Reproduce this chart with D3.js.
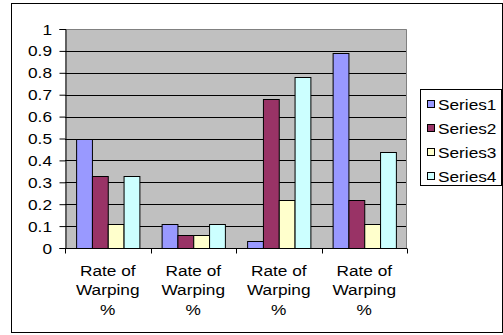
<!DOCTYPE html>
<html>
<head>
<meta charset="utf-8">
<script src="https://cdn.jsdelivr.net/npm/d3@7"></script>
<style>
  html, body { margin: 0; padding: 0; background: #fff; }
  svg { display: block; }
  text { font-family: "Liberation Sans", Arial, sans-serif; fill: #000; }
</style>
</head>
<body>
<svg id="chart" width="503" height="335"></svg>
<script>
// Category labels along the x axis
const categories = ["Rate of Warping %", "Rate of Warping %", "Rate of Warping %", "Rate of Warping %"];
const seriesNames = ["Series1", "Series2", "Series3", "Series4"];
// One value per category for each series
const series1 = [0.50, 0.11, 0.03, 0.89];
const series2 = [0.33, 0.06, 0.68, 0.22];
const series3 = [0.11, 0.06, 0.22, 0.11];
const series4 = [0.33, 0.11, 0.78, 0.44];
const yTicks = [0, 0.1, 0.2, 0.3, 0.4, 0.5, 0.6, 0.7, 0.8, 0.9, 1];
const colors = ["#9999FF", "#993366", "#FFFFCC", "#CCFFFF"];

const seriesValues = [series1, series2, series3, series4];

const svg = d3.select("#chart");
const plot = { left: 65, right: 407, top: 29, bottom: 248 };
const FONT = 15, STRETCH = 1.15;

// Text helper: slightly wide Arial-like lettering
function label(g, x, y, str, anchor) {
  return g.append("text")
    .attr("transform", `translate(${x},${y}) scale(${STRETCH},1)`)
    .attr("text-anchor", anchor)
    .attr("dominant-baseline", "central")
    .style("font-size", FONT + "px")
    .text(str);
}

// Outer chart frame
svg.append("rect")
  .attr("x", 11.5).attr("y", 3.5)
  .attr("width", 491).attr("height", 329)
  .attr("fill", "#fff").attr("stroke", "#000").attr("stroke-width", 1);

const x0 = d3.scaleBand()
  .domain(d3.range(categories.length))
  .range([plot.left, plot.right])
  .paddingInner(0).paddingOuter(0);

const gap = x0.bandwidth() * 0.13;
const x1 = d3.scaleBand()
  .domain(d3.range(seriesNames.length))
  .range([gap, x0.bandwidth() - gap])
  .padding(0);

const y = d3.scaleLinear().domain([0, 1]).range([plot.bottom, plot.top]);

// Plot area background
svg.append("rect")
  .attr("x", plot.left).attr("y", plot.top)
  .attr("width", plot.right - plot.left).attr("height", plot.bottom - plot.top)
  .attr("fill", "#C0C0C0");

// Horizontal gridlines
svg.append("g")
  .selectAll("line")
  .data(yTicks.filter(t => t > 0 && t < 1))
  .join("line")
  .attr("x1", plot.left).attr("x2", plot.right)
  .attr("y1", d => Math.round(y(d)) + 0.5).attr("y2", d => Math.round(y(d)) + 0.5)
  .attr("stroke", "#000").attr("stroke-width", 1);

// Plot area border (top and right)
svg.append("path")
  .attr("d", `M${plot.left},${plot.top + 0.5}H${plot.right - 0.5}V${plot.bottom}`)
  .attr("fill", "none").attr("stroke", "#808080").attr("stroke-width", 1);

// Bars
const groups = svg.append("g")
  .selectAll("g")
  .data(seriesValues)
  .join("g")
  .attr("fill", (d, i) => colors[i]);

groups.selectAll("rect")
  .data((vals, si) => vals.map((v, ci) => ({ v, ci, si })))
  .join("rect")
  .attr("x", d => x0(d.ci) + x1(d.si) + 0.5)
  .attr("y", d => Math.round(y(d.v)) + 0.5)
  .attr("width", x1.bandwidth())
  .attr("height", d => Math.round(y(0)) - Math.round(y(d.v)))
  .attr("stroke", "#000").attr("stroke-width", 1);

// Y axis
const yAxis = svg.append("g")
  .attr("transform", `translate(${plot.left + 0.5},0)`)
  .call(d3.axisLeft(y).tickValues(yTicks).tickSize(6).tickPadding(0).tickFormat(() => ""));
yAxis.select(".domain").attr("stroke", "#000");
yAxis.selectAll(".tick line").attr("stroke", "#000");
const yLabels = svg.append("g");
yTicks.forEach(t => label(yLabels, 52, y(t), d3.format("")(t), "end"));

// X axis
const xAxis = svg.append("g")
  .attr("transform", `translate(0,${Math.round(plot.bottom) + 0.5})`);
xAxis.append("line")
  .attr("x1", plot.left).attr("x2", plot.right)
  .attr("stroke", "#000");
xAxis.selectAll("line.tick")
  .data(d3.range(categories.length + 1))
  .join("line")
  .attr("class", "tick")
  .attr("x1", i => Math.round(i < categories.length ? x0(i) : plot.right) + 0.5)
  .attr("x2", i => Math.round(i < categories.length ? x0(i) : plot.right) + 0.5)
  .attr("y1", 0).attr("y2", 5)
  .attr("stroke", "#000");

// Category labels, wrapped onto three lines
const xLabels = svg.append("g");
categories.forEach((c, i) => {
  const cx = x0(i) + x0.bandwidth() / 2;
  const lines = ["Rate of", "Warping", "%"];
  lines.forEach((ln, k) => label(xLabels, cx, 270 + k * 19.5, ln, "middle"));
});

// Legend
const legend = svg.append("g");
legend.append("rect")
  .attr("x", 420.5).attr("y", 89.5)
  .attr("width", 81).attr("height", 96)
  .attr("fill", "#fff").attr("stroke", "#000");
seriesNames.forEach((name, i) => {
  const cy = 104 + i * 24;
  legend.append("rect")
    .attr("x", 427.5).attr("y", cy - 3.5)
    .attr("width", 7).attr("height", 7)
    .attr("fill", colors[i]).attr("stroke", "#000");
  label(legend, 438, cy, name, "start");
});
</script>
</body>
</html>
